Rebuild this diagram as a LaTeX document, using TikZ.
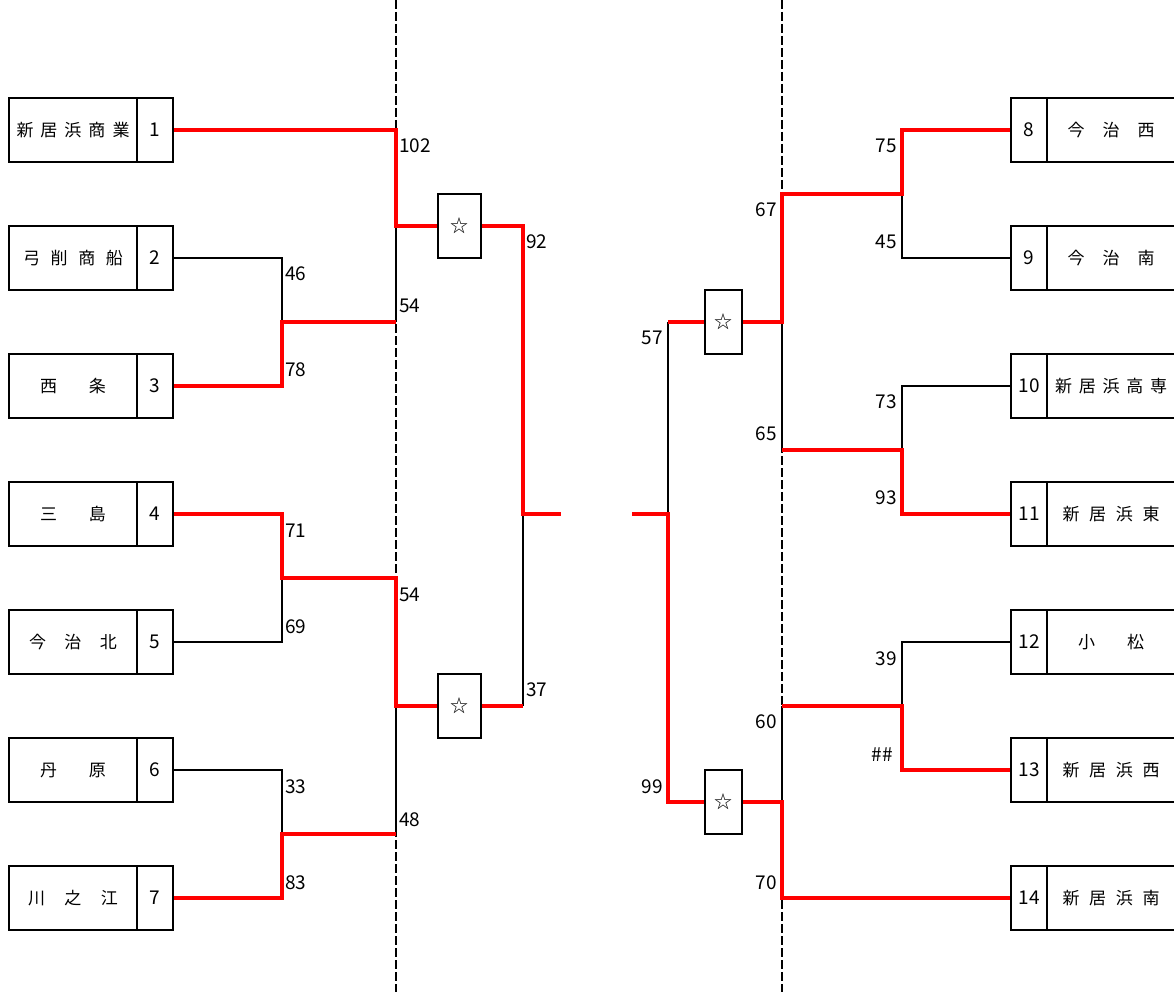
\documentclass[tikz,border=0pt]{standalone}
\usepackage{fontspec}
\setmainfont{Noto Sans CJK JP}
\newcommand\spreadname[2]{\makebox[#1pt][s]{#2}}
\begin{document}
\begin{tikzpicture}[x=1pt,y=-1pt,
  namebox/.style={draw, line width=2pt, minimum width=128pt, minimum height=64pt, inner sep=0pt, font=\fontsize{17}{17}\selectfont},
  numbox/.style={draw, line width=2pt, minimum width=36pt, minimum height=64pt, inner sep=0pt, font=\fontsize{19}{19}\selectfont},
  starbox/.style={draw, line width=2pt, minimum height=64pt, inner sep=0pt, font=\fontsize{18}{18}\selectfont},
  win/.style={draw=red, line width=3.5pt},
  lose/.style={draw=black, line width=2pt},
  score/.style={font=\fontsize{19}{19}\selectfont, inner sep=0pt},
  divider/.style={draw, line width=1.5pt, dash pattern=on 9pt off 3pt}]
\useasboundingbox (0,0) rectangle (1174,992);

% dividers
\coordinate (d1t) at (396,0); \coordinate (d1b) at (396,992);
\coordinate (d2t) at (782,0); \coordinate (d2b) at (782,992);
\draw[divider] (d1t) -- (d1b);
\draw[divider] (d2t) -- (d2b);

% left teams
\node[namebox] (n1) at (73,130) {\spreadname{113}{新\hfill 居\hfill 浜\hfill 商\hfill 業}};
\node[numbox]  (k1) at (155,130) {1};
\node[namebox] (n2) at (73,258) {\spreadname{100}{弓\hfill 削\hfill 商\hfill 船}};
\node[numbox]  (k2) at (155,258) {2};
\node[namebox] (n3) at (73,386) {\spreadname{66}{西\hfill 条}};
\node[numbox]  (k3) at (155,386) {3};
\node[namebox] (n4) at (73,514) {\spreadname{66}{三\hfill 島}};
\node[numbox]  (k4) at (155,514) {4};
\node[namebox] (n5) at (73,642) {\spreadname{88}{今\hfill 治\hfill 北}};
\node[numbox]  (k5) at (155,642) {5};
\node[namebox] (n6) at (73,770) {\spreadname{66}{丹\hfill 原}};
\node[numbox]  (k6) at (155,770) {6};
\node[namebox] (n7) at (73,898) {\spreadname{90}{川\hfill 之\hfill 江}};
\node[numbox]  (k7) at (155,898) {7};

% right teams
\node[numbox]  (k8) at (1029,130) {8};
\node[namebox] (n8) at (1111,130) {\spreadname{87}{今\hfill 治\hfill 西}};
\node[numbox]  (k9) at (1029,258) {9};
\node[namebox] (n9) at (1111,258) {\spreadname{87}{今\hfill 治\hfill 南}};
\node[numbox]  (k10) at (1029,386) {10};
\node[namebox] (n10) at (1111,386) {\spreadname{112}{新\hfill 居\hfill 浜\hfill 高\hfill 専}};
\node[numbox]  (k11) at (1029,514) {11};
\node[namebox] (n11) at (1111,514) {\spreadname{97}{新\hfill 居\hfill 浜\hfill 東}\hspace{4pt}};
\node[numbox]  (k12) at (1029,642) {12};
\node[namebox] (n12) at (1111,642) {\spreadname{66}{小\hfill 松}};
\node[numbox]  (k13) at (1029,770) {13};
\node[namebox] (n13) at (1111,770) {\spreadname{97}{新\hfill 居\hfill 浜\hfill 西}\hspace{4pt}};
\node[numbox]  (k14) at (1029,898) {14};
\node[namebox] (n14) at (1111,898) {\spreadname{97}{新\hfill 居\hfill 浜\hfill 南}\hspace{4pt}};

% star boxes
\node[starbox, minimum width=43pt] (s1) at (459.5,226) {☆};
\node[starbox, minimum width=43pt] (s2) at (459.5,706) {☆};
\node[starbox, minimum width=37pt] (t1) at (723.5,322) {☆};
\node[starbox, minimum width=37pt] (t2) at (723.5,802) {☆};

% junction coordinates, left
\coordinate (L1) at (396,226);
\coordinate (L2) at (396,322);
\coordinate (L3) at (396,578);
\coordinate (L4) at (396,706);
\coordinate (L5) at (396,834);
\coordinate (P23) at (282,322);
\coordinate (P45) at (282,578);
\coordinate (P67) at (282,834);
\coordinate (F1) at (523,514);
\coordinate (E1) at (561,514);
% junction coordinates, right
\coordinate (R1) at (782,194);
\coordinate (R2) at (782,322);
\coordinate (R3) at (782,450);
\coordinate (R4) at (782,706);
\coordinate (R5) at (782,802);
\coordinate (R6) at (782,898);
\coordinate (Q89) at (902,194);
\coordinate (Q1011) at (902,450);
\coordinate (Q1213) at (902,706);
\coordinate (G1) at (668,322);
\coordinate (G2) at (668,514);
\coordinate (E2) at (632,514);

% left black lines
\draw[lose] (L1) -- (L2);
\draw[lose] (k2.east) -| (P23);
\draw[lose] (k5.east) -| (P45);
\draw[lose] (L4) -- (L5);
\draw[lose] (k6.east) -| (P67);
\draw[lose] (s2.east -| F1) -- (F1);
% left red lines
\draw[win] (k1.east) -| (L1) -- (s1.west);
\draw[win] (k3.east) -| (P23) -- (L2);
\draw[win] (k4.east) -| (P45) -- (L3) |- (s2.west);
\draw[win] (k7.east) -| (P67) -- (L5);
\draw[win] (s1.east) -| (F1) -- (E1);
\draw[win] (s2.east) -- (s2.east -| F1);

% right black lines
\draw[lose] (k9.west) -| (Q89);
\draw[lose] (R2) -- (R3);
\draw[lose] (k10.west) -| (Q1011);
\draw[lose] (G1) -- (G2);
\draw[lose] (k12.west) -| (Q1213);
\draw[lose] (R4) -- (R5);
% right red lines
\draw[win] (k8.west) -| (Q89) -- (R1) |- (t1.east);
\draw[win] (k11.west) -| (Q1011) -- (R3);
\draw[win] (t1.west) -- (G1);
\draw[win] (E2) -- (G2) |- (t2.west);
\draw[win] (t2.east) -| (R6) -- (k14.west);
\draw[win] (k13.west) -| (Q1213) -- (R4);

% scores, left
\node[score, anchor=west] (c1) at (399,146) {102};
\node[score, anchor=west] (c2) at (285,274) {46};
\node[score, anchor=west] (c3) at (399,306) {54};
\node[score, anchor=west] (c4) at (285,370) {78};
\node[score, anchor=west] (c5) at (526,242) {92};
\node[score, anchor=west] (c6) at (285,531) {71};
\node[score, anchor=west] (c7) at (399,595) {54};
\node[score, anchor=west] (c8) at (285,627) {69};
\node[score, anchor=west] (c9) at (526,690) {37};
\node[score, anchor=west] (c10) at (285,787) {33};
\node[score, anchor=west] (c11) at (399,820) {48};
\node[score, anchor=west] (c12) at (285,883) {83};
% scores, right
\node[score, anchor=east] (e1) at (897,146) {75};
\node[score, anchor=east] (e2) at (897,242) {45};
\node[score, anchor=east] (e3) at (777,210) {67};
\node[score, anchor=east] (e4) at (663,338) {57};
\node[score, anchor=east] (e5) at (897,402) {73};
\node[score, anchor=east] (e6) at (897,498) {93};
\node[score, anchor=east] (e7) at (777,434) {65};
\node[score, anchor=east] (e8) at (897,659) {39};
\node[score, anchor=east] (e9) at (893,755) {\#\#};
\node[score, anchor=east] (e10) at (777,722) {60};
\node[score, anchor=east] (e11) at (663,787) {99};
\node[score, anchor=east] (e12) at (777,883) {70};
\end{tikzpicture}
\end{document}
